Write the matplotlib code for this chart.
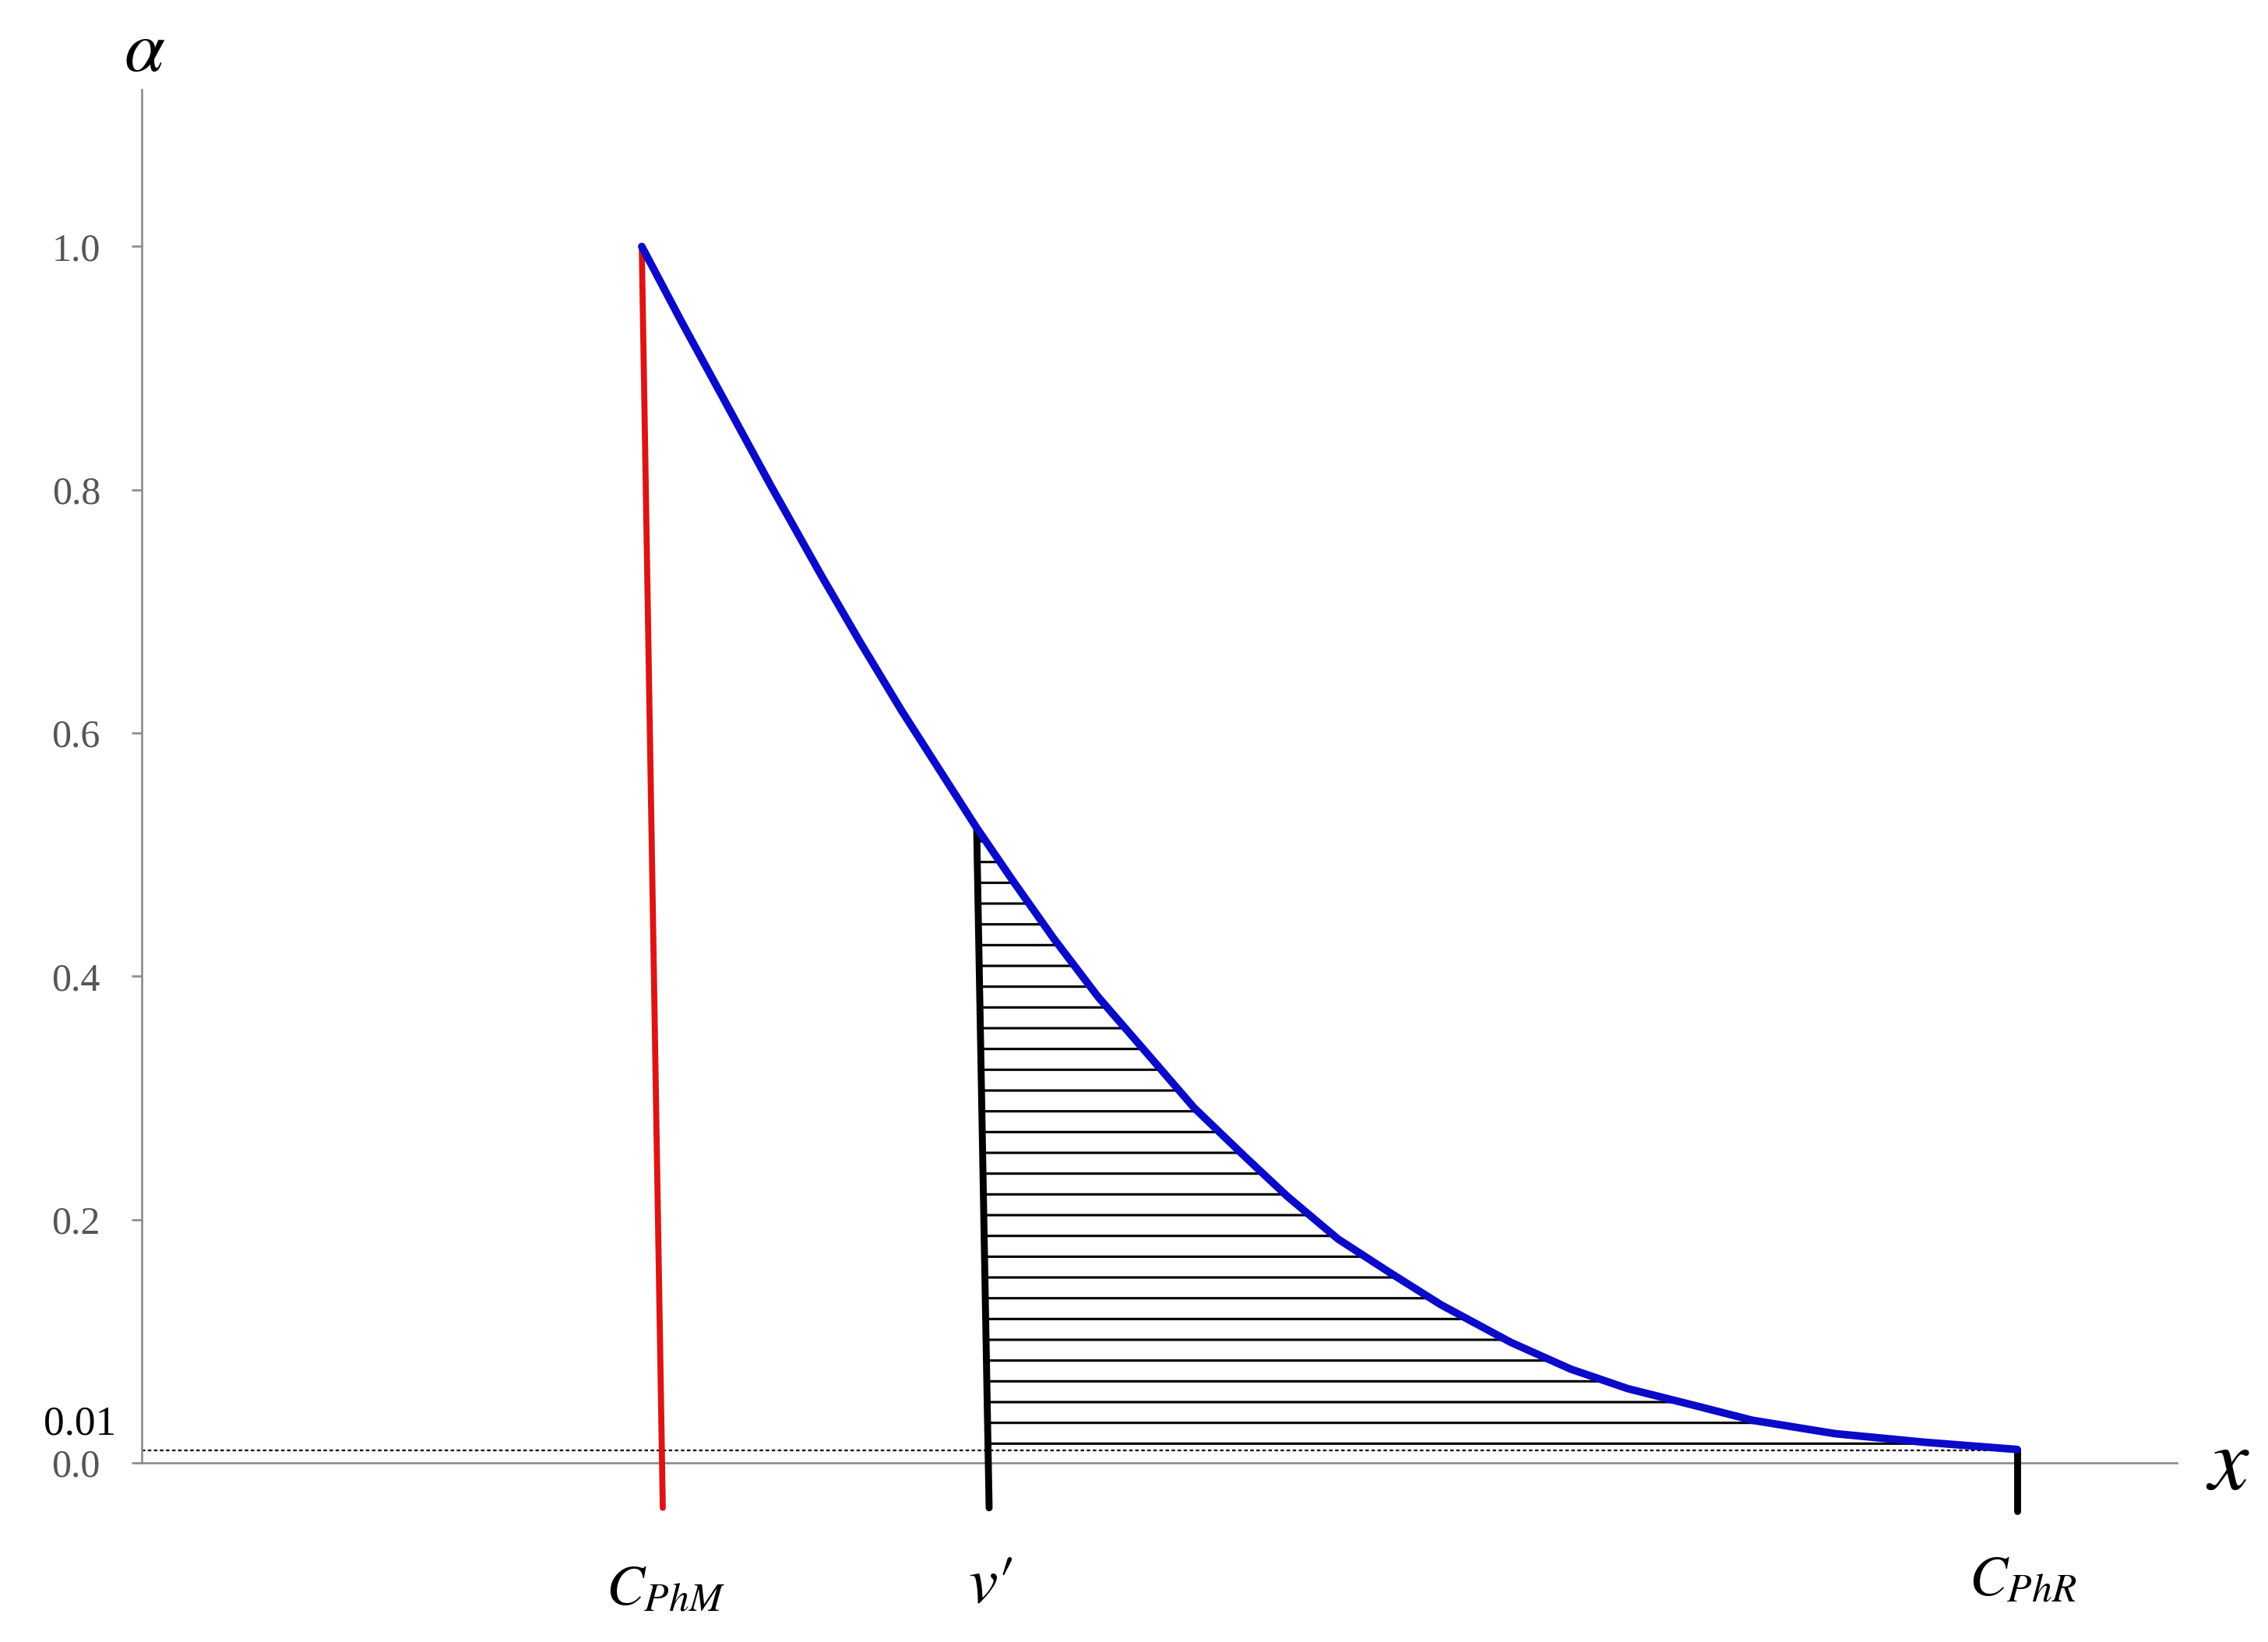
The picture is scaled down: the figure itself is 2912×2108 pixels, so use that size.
import matplotlib
matplotlib.use('Agg')
import matplotlib.pyplot as plt
import numpy as np

# ---- data ----
curve_x = [6.42, 6.94, 7.46, 8.08, 8.73, 9.23, 9.75, 10.23, 10.71, 11.18,
           11.71, 12.28, 12.93, 13.51, 14.16, 14.71, 15.36, 16.01, 16.68,
           17.58, 18.35, 19.08, 20.01, 20.68, 21.74, 22.88, 24.08]
curve_y = [1.000, 0.937, 0.876, 0.803, 0.729, 0.674, 0.619, 0.571, 0.523, 0.479,
           0.431, 0.383, 0.335, 0.292, 0.252, 0.219, 0.184, 0.157, 0.130,
           0.099, 0.077, 0.061, 0.046, 0.035, 0.024, 0.017, 0.011]

cphm_x = [6.42, 6.69]      # red line C_PhM
cphm_y = [1.0, -0.037]
vprime_x = [10.72, 10.88]  # black line v'
vprime_y = [0.521, -0.037]
cphr_x = [24.08, 24.08]    # C_PhR marker
cphr_y = [0.011, -0.040]
threshold = 0.01

yticks = [0.0, 0.2, 0.4, 0.6, 0.8, 1.0]
ytick_labels = ['0.0', '0.2', '0.4', '0.6', '0.8', '1.0']

# ---- figure ----
plt.rcParams['mathtext.fontset'] = 'stix'
plt.rcParams['hatch.linewidth'] = 1.4
plt.rcParams['hatch.color'] = 'black'

W, H = 2912, 2108
dpi = 160
fig = plt.figure(figsize=(W / dpi, H / dpi), dpi=dpi)
fig.patch.set_facecolor('white')
ax = fig.add_axes([182 / W, (H - 1878) / H, (2795 - 182) / W, (1878 - 115) / H])
ax.set_xlim(0, 26.13)
ax.set_ylim(0, 1.129)

axis_gray = '#8c8c8c'
for s in ['top', 'right']:
    ax.spines[s].set_visible(False)
for s in ['left', 'bottom']:
    ax.spines[s].set_color(axis_gray)
    ax.spines[s].set_linewidth(1.2)

ax.set_xticks([])
ax.set_yticks(yticks)
ax.set_yticklabels(ytick_labels, fontfamily='Liberation Serif', fontsize=22.5, color='#555555')
ax.tick_params(axis='y', direction='out', length=5.9, width=1.2, color=axis_gray, pad=18)

# dotted threshold line
ax.plot([0, cphr_x[0]], [threshold, threshold], color='black', lw=1.0,
        ls=(0, (2, 1.5)), zorder=2, clip_on=False)

# hatched region between v' and the curve, above the threshold
v_at_thr = np.interp(threshold, vprime_y[::-1], vprime_x[::-1])
cx = np.array(curve_x)
cy = np.array(curve_y)
mask = cx > vprime_x[0]
poly_x = [vprime_x[0]] + list(cx[mask]) + [cphr_x[0], v_at_thr]
poly_y = [vprime_y[0]] + list(cy[mask]) + [threshold, threshold]
ax.fill(poly_x, poly_y, facecolor='none', edgecolor='black', linewidth=0,
        hatch='-', zorder=2)

# lines
ax.plot(cphm_x, cphm_y, color='#dd1414', lw=3.5, solid_capstyle='round',
        zorder=3, clip_on=False)
ax.plot(vprime_x, vprime_y, color='black', lw=4.0, solid_capstyle='round',
        zorder=3, clip_on=False)
ax.plot(cphr_x, cphr_y, color='black', lw=4.0, solid_capstyle='round',
        zorder=3, clip_on=False)
ax.plot(curve_x, curve_y, color='#0a0ac8', lw=4.4, solid_capstyle='round',
        solid_joinstyle='round', zorder=4, clip_on=False)

# labels
ax.text(-0.79, 0.032, '0.01', fontfamily='Liberation Serif', fontsize=24,
        color='black', ha='center', va='center')
ax.text(0.04, 1.161, r'$\alpha$', fontsize=42, ha='center', va='center')
ax.text(26.78, -0.001, r'$x$', fontsize=52, ha='center', va='center')
ax.text(6.72, -0.103, r'$C_{PhM}$', fontsize=33, ha='center', va='center')
ax.text(10.9, -0.099, r'$v\prime$', fontsize=38, ha='center', va='center')
ax.text(24.15, -0.095, r'$C_{PhR}$', fontsize=33, ha='center', va='center')

fig.savefig('out.png', dpi=dpi, facecolor='white')
